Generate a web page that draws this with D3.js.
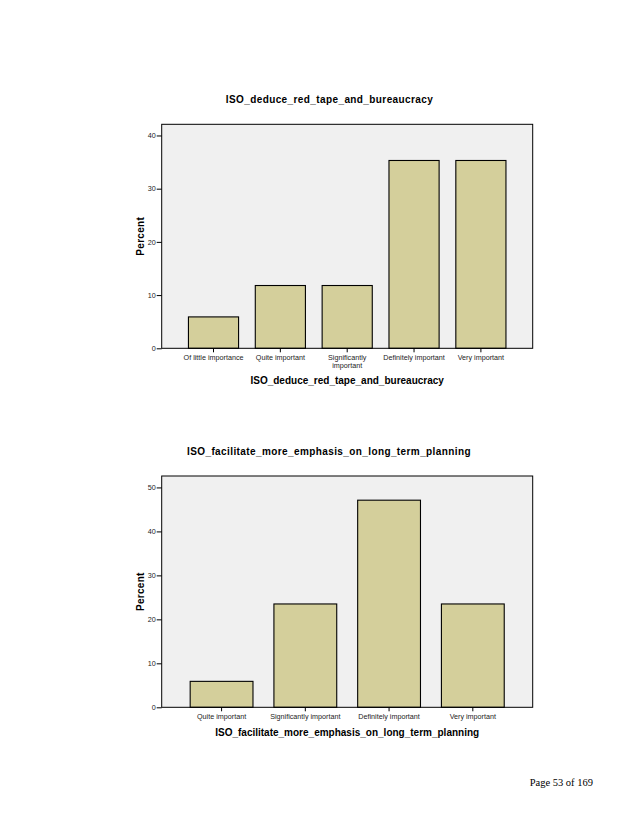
<!DOCTYPE html>
<html>
<head>
<meta charset="utf-8">
<script src="https://cdn.jsdelivr.net/npm/d3@7"></script>
<style>
  html, body { margin: 0; padding: 0; background: #fff; }
  svg { display: block; }
</style>
</head>
<body>
<svg id="page"></svg>
<script>
// chart 1
const redTapeCategories = ["Of little importance", "Quite important", "Significantly important", "Definitely important", "Very important"];
const redTapePercent = [5.9, 11.8, 11.8, 35.3, 35.3];
const redTapeTicks = [0, 10, 20, 30, 40];

// chart 2
const planningCategories = ["Quite important", "Significantly important", "Definitely important", "Very important"];
const planningPercent = [5.9, 23.5, 47.1, 23.5];
const planningTicks = [0, 10, 20, 30, 40, 50];

const width = 638;
const height = 826;
const svg = d3.select("#page")
    .attr("width", width)
    .attr("height", height)
    .attr("viewBox", [0, 0, width, height]);

const font = "'Liberation Sans', Arial, sans-serif";

// break long tick labels onto a second line
function wrap(text, w) {
    text.each(function() {
        const t = d3.select(this);
        const words = t.text().split(/\s+/);
        const y = t.attr("y");
        t.attr("dy", null);
        let line = [];
        let n = 0;
        let tspan = t.text(null).append("tspan").attr("x", 0).attr("y", y).attr("dy", 4.2);
        for (const word of words) {
            line.push(word);
            tspan.text(line.join(" "));
            if (tspan.node().getComputedTextLength() > w && line.length > 1) {
                line.pop();
                tspan.text(line.join(" "));
                line = [word];
                n++;
                tspan = t.append("tspan").attr("x", 0).attr("y", y)
                    .attr("dy", 4.2 + n * 7.9).text(word);
            }
        }
    });
}

function drawChart(o) {
    const g = svg.append("g");

    const x = d3.scaleBand()
        .domain(o.categories)
        .range([o.left, o.right])
        .paddingInner(0.25)
        .paddingOuter(o.padOuter);

    const y = d3.scaleLinear()
        .domain([0, o.yMax])
        .range([o.bottom, o.top]);

    // plot background
    g.append("rect")
        .attr("x", o.left)
        .attr("y", o.top)
        .attr("width", o.right - o.left)
        .attr("height", o.bottom - o.top)
        .attr("fill", "#f0f0f0");

    g.append("g")
        .selectAll("rect")
        .data(o.values)
        .join("rect")
        .attr("x", (d, i) => x(o.categories[i]))
        .attr("y", d => y(d))
        .attr("width", x.bandwidth())
        .attr("height", d => y(0) - y(d))
        .attr("fill", "#d4cf9b")
        .attr("stroke", "#000")
        .attr("stroke-width", 1.1);

    // frame
    g.append("rect")
        .attr("x", o.left)
        .attr("y", o.top)
        .attr("width", o.right - o.left)
        .attr("height", o.bottom - o.top)
        .attr("fill", "none")
        .attr("stroke", "#000")
        .attr("stroke-width", 1);

    const yAxis = g.append("g")
        .attr("transform", `translate(${o.left},0)`)
        .call(d3.axisLeft(y).tickValues(o.ticks).tickSize(5).tickPadding(1).tickFormat(d3.format("d")));
    yAxis.select(".domain").remove();
    yAxis.selectAll("text").attr("font-family", font).attr("font-size", 7.2).attr("fill", "#222");

    const xAxis = g.append("g")
        .attr("transform", `translate(0,${o.bottom})`)
        .call(d3.axisBottom(x).tickSize(4).tickPadding(4));
    xAxis.select(".domain").remove();
    xAxis.selectAll("text")
        .attr("font-family", font)
        .attr("font-size", 7.2)
        .attr("fill", "#222")
        .call(wrap, x.step());

    g.append("text")
        .attr("x", o.titleX)
        .attr("y", o.top - 21.5)
        .attr("text-anchor", "middle")
        .attr("font-family", font)
        .attr("font-weight", "bold")
        .attr("font-size", 10)
        .attr("letter-spacing", 0.4)
        .text(o.title);

    g.append("text")
        .attr("x", (o.left + o.right) / 2)
        .attr("y", o.bottom + o.xTitleGap)
        .attr("text-anchor", "middle")
        .attr("font-family", font)
        .attr("font-weight", "bold")
        .attr("font-size", 10)
        .text(o.title);

    g.append("text")
        .attr("transform", `translate(144,${(o.top + o.bottom) / 2}) rotate(-90)`)
        .attr("text-anchor", "middle")
        .attr("font-family", font)
        .attr("font-weight", "bold")
        .attr("font-size", 10)
        .attr("letter-spacing", 0.3)
        .text("Percent");
}

drawChart({
    title: "ISO_deduce_red_tape_and_bureaucracy",
    categories: redTapeCategories,
    values: redTapePercent,
    ticks: redTapeTicks,
    yMax: 42.1,
    left: 161.7, right: 532.7, top: 124.3, bottom: 348.3,
    padOuter: 0.4, titleX: 329.5, xTitleGap: 36
});

drawChart({
    title: "ISO_facilitate_more_emphasis_on_long_term_planning",
    categories: planningCategories,
    values: planningPercent,
    ticks: planningTicks,
    yMax: 52.6,
    left: 161.7, right: 532.7, top: 476, bottom: 707.3,
    padOuter: 0.34, titleX: 329, xTitleGap: 28.7
});

svg.append("text")
    .attr("x", 593)
    .attr("y", 786)
    .attr("text-anchor", "end")
    .attr("font-family", "'Liberation Serif', 'Times New Roman', serif")
    .attr("font-size", 10.5)
    .text("Page 53 of 169");
</script>
</body>
</html>
